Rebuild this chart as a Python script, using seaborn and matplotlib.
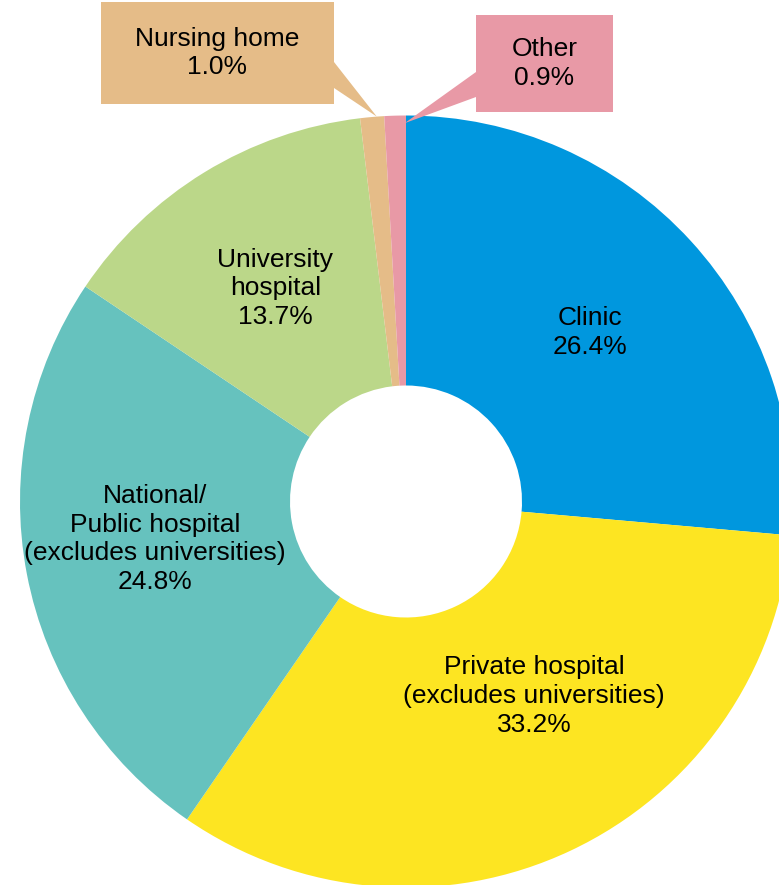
import numpy as np
import pandas as pd
import seaborn as sns
import matplotlib
matplotlib.use("Agg")
import matplotlib.pyplot as plt
from matplotlib.patches import Polygon, Rectangle

categories = ["Clinic", "Private hospital\n(excludes universities)",
              "National/\nPublic hospital\n(excludes universities)",
              "University\nhospital", "Nursing home", "Other"]
shares = [26.4, 33.2, 24.8, 13.7, 1.0, 0.9]
colors = ["#0097DE", "#FDE522", "#66C2BE", "#BBD789", "#E5BC88", "#E899A6"]

sns.set_theme(style="white")
plt.rcParams['font.family'] = ['Liberation Sans', 'DejaVu Sans']

W, H = 779, 885
fig = plt.figure(figsize=(W / 100, H / 100), dpi=100)
ax = fig.add_axes([0, 0, 1, 1])

cx, cy = 406, H - 501.5
R, r_in = 386, 116
df = pd.DataFrame({"category": categories, "share": shares})
wedges, _ = ax.pie(df["share"], colors=colors, startangle=90, counterclock=False,
                   center=(cx, cy), radius=R, frame=True,
                   wedgeprops=dict(width=R - r_in, linewidth=0))
ax.set_xlim(0, W)
ax.set_ylim(0, H)
ax.axis("off")

fs = 19
ls = 1.25
# inside labels: (radius, angle offset)
inside = {0: (250, 0), 1: (233, 8.2), 2: (254, -2.3), 3: (250, 0)}
for i, (rr, off) in inside.items():
    w = wedges[i]
    ang = np.deg2rad((w.theta1 + w.theta2) / 2 + off)
    x, y = cx + rr * np.cos(ang), cy + rr * np.sin(ang)
    ax.text(x, y, f"{df['category'][i]}\n{df['share'][i]:.1f}%", ha="center", va="center",
            fontsize=fs, color="black", linespacing=ls)

# callouts: box (x0, y_top, x1, y_bottom) in pixel coords, pointer base on box edge
callouts = {
    4: dict(box=(101, 2, 334, 104), base=((334, 62), (334, 88)), tip_r=R, tip_off=-0.7),
    5: dict(box=(476, 15, 613, 112), base=((476, 72), (476, 97)), tip_r=R * 0.98, tip_off=-1.4),
}
for i, c in callouts.items():
    w = wedges[i]
    ang = np.deg2rad((w.theta1 + w.theta2) / 2 + c["tip_off"])
    tx, ty = cx + c["tip_r"] * np.cos(ang), cy + c["tip_r"] * np.sin(ang)
    (bx1, by1), (bx2, by2) = c["base"]
    poly = Polygon([(bx1, H - by1), (bx2, H - by2), (tx, ty)], closed=True,
                   facecolor=colors[i], edgecolor="none", zorder=3)
    ax.add_patch(poly)
    x0, y0, x1, y1 = c["box"]
    ax.add_patch(Rectangle((x0, H - y1), x1 - x0, y1 - y0, facecolor=colors[i],
                           edgecolor="none", zorder=4))
    ax.text((x0 + x1) / 2, H - (y0 + y1) / 2, f"{df['category'][i]}\n{df['share'][i]:.1f}%",
            ha="center", va="center", fontsize=fs, color="black", linespacing=ls, zorder=5)

fig.savefig("out.png", dpi=100)
